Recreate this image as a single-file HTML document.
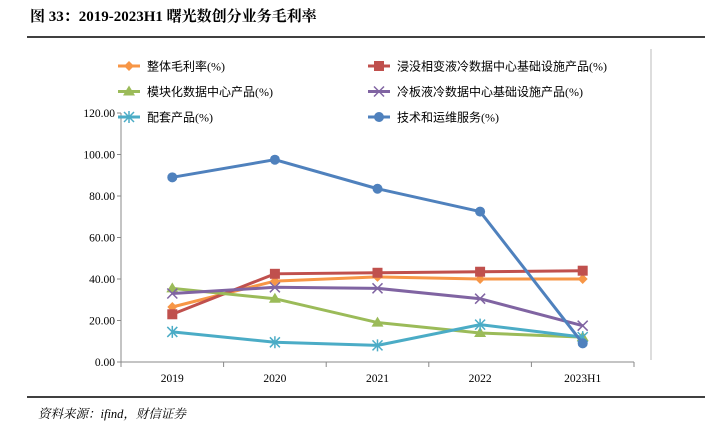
<!DOCTYPE html>
<html><head><meta charset="utf-8"><style>
body{margin:0;background:#fff;width:705px;height:431px;overflow:hidden;font-family:"Liberation Serif","Noto Serif CJK SC",serif;}
svg text{font-family:"Liberation Serif","Noto Sans CJK SC",serif;}
</style></head><body>
<svg width="705" height="431">
<text x="30" y="21" font-size="15" font-weight="bold" style="font-family:'Liberation Serif','Noto Serif CJK SC',serif">图 33：2019-2023H1 曙光数创分业务毛利率</text>
<line x1="27" y1="37" x2="705" y2="37" stroke="#000" stroke-width="1.5"/>
<line x1="651" y1="49" x2="651" y2="360" stroke="#bbb"/>
<line x1="27" y1="397" x2="705" y2="397" stroke="#000" stroke-width="1.5"/>
<text x="38" y="418" font-size="12.5" font-style="italic" style="font-family:'Liberation Serif','Noto Serif CJK SC',serif">资料来源：ifind，财信证券</text>
<g id="axes"></g><g id="series"></g><g id="legend"></g>
</svg>
<script>
const categories=["2019","2020","2021","2022","2023H1"];
const yTicks=[0,20,40,60,80,100,120];
const names=["整体毛利率(%)","浸没相变液冷数据中心基础设施产品(%)","模块化数据中心产品(%)","冷板液冷数据中心基础设施产品(%)","配套产品(%)","技术和运维服务(%)"];
const overall=[26.5,39,41,40,40];
const immersion=[23,42.5,43,43.5,44];
const modular=[35.5,30.5,19,14,12];
const coldPlate=[33,36,35.5,30.5,17.5];
const supporting=[14.5,9.5,8,18,12];
const service=[89,97.5,83.5,72.5,9];
const seriesData=[overall,immersion,modular,coldPlate,supporting,service];
const colors=["#f79646","#c0504d","#9bbb59","#8064a2","#4bacc6","#4f81bd"];
const markers=["diamond","square","triangle","x","star","circle"];
const NS="http://www.w3.org/2000/svg";
const L=121,R=634,T=113,B=362;
const xs=i=>L+(R-L)/categories.length*(i+0.5);
const ys=v=>B-(v/120)*(B-T);
function mk(t,a,p){const e=document.createElementNS(NS,t);for(const k in a)e.setAttribute(k,a[k]);p.appendChild(e);return e;}
const ax=document.getElementById('axes');
const yl=mk('line',{x1:L,y1:T,x2:L,y2:B,stroke:'#888'},ax);


const xl=mk('line',{x1:L,y1:B,x2:R,y2:B,stroke:'#888'},ax);


yTicks.forEach(v=>{mk('line',{x1:L-4,y1:ys(v),x2:L,y2:ys(v),stroke:'#888'},ax);
const t=mk('text',{x:L-6,y:ys(v)+4,'font-size':11.5,'text-anchor':'end'},ax);t.textContent=v.toFixed(2);

});
for(let i=0;i<=categories.length;i++){const x=L+(R-L)/categories.length*i;mk('line',{x1:x,y1:B,x2:x,y2:B+5,stroke:'#888'},ax);}
categories.forEach((c,i)=>{const t=mk('text',{x:xs(i),y:B+20,'font-size':11.5,'text-anchor':'middle'},ax);t.textContent=c;

});
function marker(g,type,x,y,c){
 if(type=="diamond")mk('polygon',{points:`${x},${y-5} ${x+5},${y} ${x},${y+5} ${x-5},${y}`,fill:c},g);
 else if(type=="square")mk('rect',{x:x-5,y:y-5,width:10,height:10,fill:c},g);
 else if(type=="triangle")mk('polygon',{points:`${x},${y-6} ${x+6},${y+4} ${x-6},${y+4}`,fill:c},g);
 else if(type=="x"){mk('path',{d:`M${x-5},${y-5}L${x+5},${y+5}M${x-5},${y+5}L${x+5},${y-5}`,stroke:c,'stroke-width':1.5},g);}
 else if(type=="star"){mk('path',{d:`M${x-5},${y-5}L${x+5},${y+5}M${x-5},${y+5}L${x+5},${y-5}M${x},${y-6}L${x},${y+6}`,stroke:c,'stroke-width':1.5},g);}
 else mk('circle',{cx:x,cy:y,r:5,fill:c},g);
}
const sg=document.getElementById('series');
seriesData.forEach((d,s)=>{const g=mk('g',{},sg);


mk('polyline',{points:d.map((v,i)=>xs(i)+','+ys(v)).join(' '),fill:'none',stroke:colors[s],'stroke-width':3},g);
d.forEach((v,i)=>marker(g,markers[s],xs(i),ys(v),colors[s]));});
const lg=document.getElementById('legend');
names.forEach((n,s)=>{const col=s%2,row=Math.floor(s/2);const x=col?368:118,y=66+row*25.5;
const g=mk('g',{},lg);


mk('line',{x1:x,y1:y,x2:x+22,y2:y,stroke:colors[s],'stroke-width':3},g);
marker(g,markers[s],x+11,y,colors[s]);
const t=mk('text',{x:x+29,y:y+4.5,'font-size':12},g);t.textContent=n;});
</script>
</body></html>
